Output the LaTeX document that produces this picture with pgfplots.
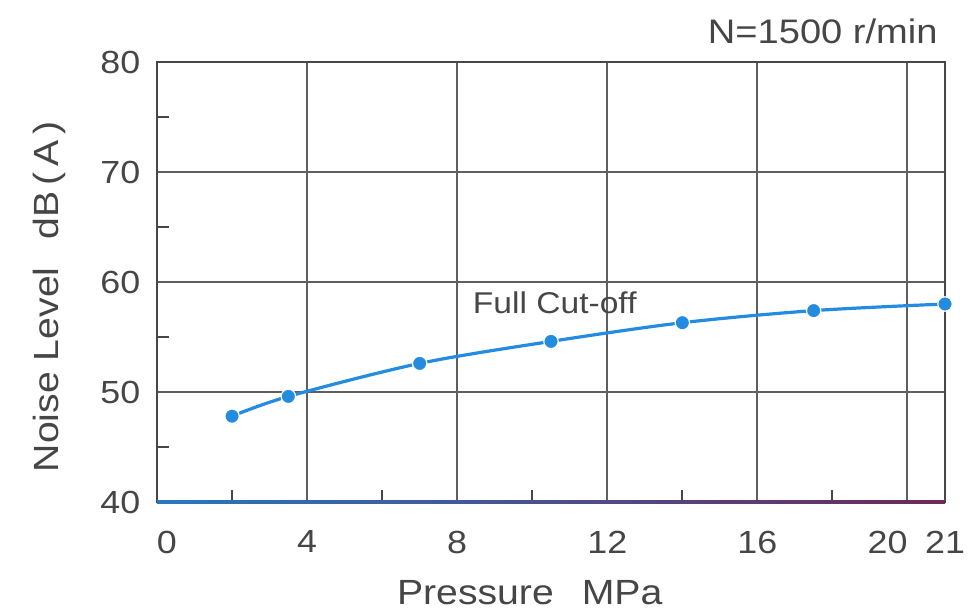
\documentclass[border=0pt]{standalone}
\usepackage{fontspec}
\setmainfont{Liberation Sans}[FakeStretch=1.12]
\usepackage{pgfplots}
\pgfplotsset{compat=1.18}
\definecolor{gridc}{RGB}{95,95,95}
\definecolor{axc}{RGB}{70,70,75}
\definecolor{curve}{RGB}{35,140,225}
\definecolor{txt}{RGB}{70,70,70}
\begin{document}
\fontsize{15.5}{18}\selectfont
\begin{tikzpicture}
\begin{axis}[
 scale only axis, width=394pt, height=220pt,
 xmin=0, xmax=21, ymin=40, ymax=80,
 xtick={0,4,8,12,16,20,21}, ytick={40,50,60,70,80},
 xticklabels={{\phantom{0}0},4,8,12,16,{20\phantom{00}},21},
 minor xtick={2,6,10,14,18}, minor ytick={45,55,65,75},
 tick pos=left, tick align=inside,
 major tick length=0pt, minor tick length=6pt,
 grid=major, grid style={gridc, line width=1pt},
 minor tick style={axc, line width=1pt},
 axis line style={axc, line width=1.2pt},
 /pgf/number format/assume math mode=true,
 ticklabel style={font=\fontsize{16}{18}\selectfont, text=txt},
 xticklabel style={yshift=-9pt},
 yticklabel style={xshift=-3pt},
 xlabel={Pressure\hspace{0.8em}MPa},
 ylabel={Noise Level\hspace{0.8em}dB\,(\,A\,)},
 label style={font=\fontsize{17.5}{20}\selectfont, text=txt},
 xlabel style={at={(axis description cs:0.473,-0.205)}, anchor=center},
 ylabel style={at={(axis description cs:-0.136,0.466)}, anchor=center},
 clip=false,
]
\addplot[curve, line width=1.6pt, smooth, mark=*, mark size=3.6pt,
  mark options={fill=curve, draw=white, line width=0.6pt}]
  coordinates {(2,47.8)(3.5,49.6)(7,52.6)(10.5,54.6)(14,56.3)(17.5,57.4)(21,58.0)};
\shade[left color={rgb,255:red,40;green,120;blue,190}, right color={rgb,255:red,110;green,40;blue,90}]
  ([yshift=-1.0pt]axis cs:0,40) rectangle ([yshift=0.5pt]axis cs:21,40);
\node[text=txt, font=\fontsize{15}{18}\selectfont] at (axis cs:10.6,58.1) {Full Cut-off};
\node[anchor=base east, text=txt, inner sep=0pt, font=\fontsize{17}{20}\selectfont] at (rel axis cs:1,1) [xshift=-3.5pt, yshift=9pt] {N=1500 r/min};
\end{axis}
\pgfresetboundingbox
\path (-78.5pt,-56pt) rectangle (407.5pt,251pt);
\end{tikzpicture}
\end{document}
